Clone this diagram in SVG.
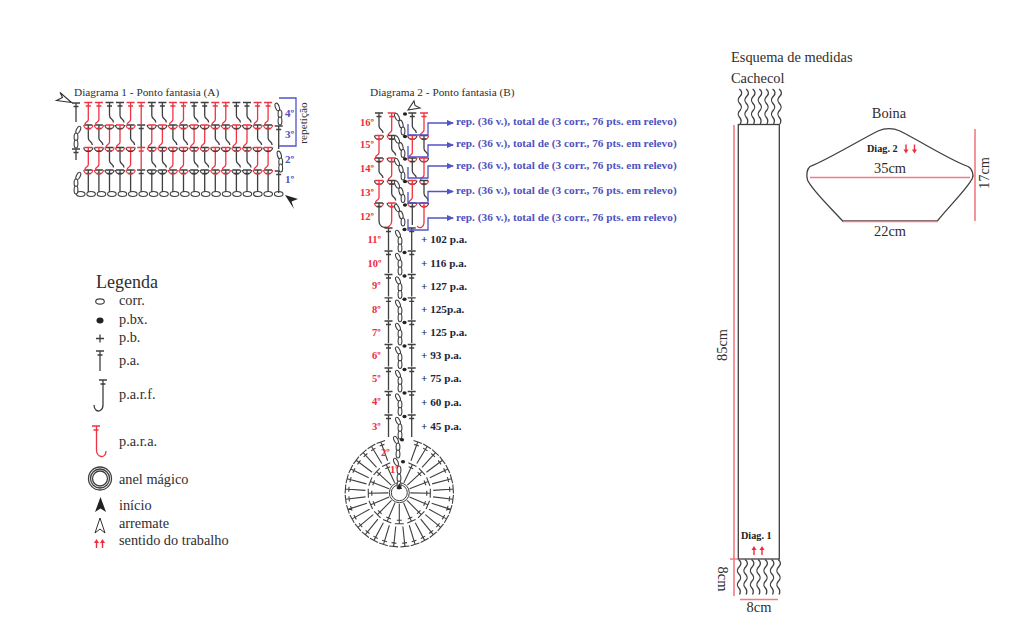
<svg xmlns="http://www.w3.org/2000/svg" width="1024" height="637" viewBox="0 0 1024 637">
<style>
text{font-family:"Liberation Serif","Times New Roman",serif;fill:#2e2e2e}
.l{font-size:14.300px}
.n{font-size:11px;font-weight:bold;fill:#4f52c0}
.h{font-size:11.300px}
.m{font-size:14.400px}
.b{font-size:11.300px;font-weight:bold;fill:#4f52c0}
.p{font-size:11.200px;font-weight:bold;fill:#22243a}
.o{font-size:10.500px;font-weight:bold;fill:#ef2b3c}
.d{font-size:10.200px;font-weight:bold;fill:#222}
.s{fill:none;stroke:#3f3f3f;stroke-width:1.3}
.r{fill:none;stroke:#ef3340;stroke-width:1.3}
.bl{fill:none;stroke:#5153c6;stroke-width:1.3}
.me{fill:none;stroke:#f27a84;stroke-width:1.6}
.c{fill:#fff;stroke:#3f3f3f;stroke-width:1.1}
.f{fill:#222}
</style>
<defs>
<marker id="ab" markerWidth="7" markerHeight="6" refX="6" refY="3" orient="auto" markerUnits="userSpaceOnUse"><path d="M0 0L7 3L0 6Z" fill="#5153c6"/></marker>
<path id="pa" class="s" d="M-4 0H4M-2.500 3.500H2.500M0 0V22"/>
<path id="pr" class="r" d="M-4 0H4M-2.500 3.500H2.500M0 0V22"/>
<path id="k" class="s" d="M-4 0H4M-2.500 3.500H2.500M0 0V13C0 17 4 16 4 20M-4.500 22.500A4.500 4 0 0 0 4.500 22.500"/>
<path id="q" class="r" d="M-4 0H4M-2.500 3.500H2.500M0 0V17C0 20 -3 19 -3.500 22M-4.500 22.500A4.500 4 0 0 0 4.500 22.500"/>
<ellipse id="ch" class="c" rx="1.900" ry="4"/>
<ellipse id="ho" class="c" rx="4.300" ry="2.500"/>
<g id="rowA">
<use href="#q" x="88.300"/><use href="#q" x="98.900"/><use href="#k" x="109.500"/><use href="#k" x="120"/><use href="#q" x="130.600"/><use href="#pr" x="141.200"/><use href="#k" x="151.800"/><use href="#k" x="162.400"/><use href="#q" x="172.900"/><use href="#q" x="183.500"/><use href="#k" x="194.100"/><use href="#k" x="204.700"/><use href="#q" x="215.300"/><use href="#q" x="225.800"/><use href="#k" x="236.400"/><use href="#k" x="247"/><use href="#q" x="257.600"/><use href="#q" x="268.100"/>
</g>
<g id="rowB">
<use href="#k" x="88.300"/><use href="#k" x="98.900"/><use href="#q" x="109.500"/><use href="#q" x="120"/><use href="#k" x="130.600"/><use href="#pa" x="141.200"/><use href="#q" x="151.800"/><use href="#q" x="162.400"/><use href="#k" x="172.900"/><use href="#k" x="183.500"/><use href="#q" x="194.100"/><use href="#q" x="204.700"/><use href="#k" x="215.300"/><use href="#k" x="225.800"/><use href="#q" x="236.400"/><use href="#q" x="247"/><use href="#k" x="257.600"/><use href="#k" x="268.100"/>
</g>
<g id="low">
<use href="#pa" x="388.500"/><use href="#pa" x="411.700"/>
<use href="#ch" transform="translate(398 6) rotate(-25)"/><use href="#ch" transform="translate(400 13)"/><use href="#ch" transform="translate(400 20)"/>
<ellipse class="f" cx="404.500" cy="1.500" rx="2.100" ry="1.800"/>
</g>
<g id="twist">
<use href="#ch" transform="translate(397 4) rotate(-25)"/><use href="#ch" transform="translate(401 11) rotate(-15)"/><use href="#ch" transform="translate(403 18)"/>
<ellipse class="f" cx="405" cy="1" rx="2.100" ry="1.800"/>
</g>
<g id="A"><use href="#k" x="379"/><use href="#q" x="391.700"/><use href="#k" x="412.300"/><use href="#q" x="424"/></g>
<g id="B"><use href="#q" x="379"/><use href="#k" x="391.700"/><use href="#q" x="412.300"/><use href="#k" x="424"/></g>
<g id="ro"><path class="s" style="stroke-width:1.100" d="M-4.500 -54H4.500M-2.500 -50.500H2.500M0 -54V-34"/></g>
<g id="ri"><path class="s" style="stroke-width:1.100" d="M-4.500 -31H4.500M-2.500 -27.500H2.500M0 -31V-11"/></g>
<path id="up" d="M-2.500 4L0 0L2.500 4H.7V9H-.7V4Z" fill="#ef2b3c"/>
<path id="fr" class="s" d="M0 0c3 2 3 5 1 7s-3 5 -1 7s3 5 1 7s-3 5 -1 7s2 5 1 7"/>
</defs>

<g id="diagrama-1">
<text class="h" x="74" y="95.500">Diagrama 1 - Ponto fantasia (A)</text>
<g id="d1-correntes">
<use href="#ho" x="80.700" y="194"/><use href="#ho" x="91.100" y="194"/><use href="#ho" x="101.500" y="194"/><use href="#ho" x="111.900" y="194"/><use href="#ho" x="122.400" y="194"/><use href="#ho" x="132.800" y="194"/><use href="#ho" x="143.200" y="194"/><use href="#ho" x="153.600" y="194"/><use href="#ho" x="164" y="194"/><use href="#ho" x="174.500" y="194"/><use href="#ho" x="184.900" y="194"/><use href="#ho" x="195.300" y="194"/><use href="#ho" x="205.700" y="194"/><use href="#ho" x="216.100" y="194"/><use href="#ho" x="226.600" y="194"/><use href="#ho" x="237" y="194"/><use href="#ho" x="247.400" y="194"/><use href="#ho" x="257.800" y="194"/><use href="#ho" x="268.200" y="194"/><use href="#ho" x="278.700" y="194"/>
</g>
<g id="d1-carreira-1">
<use href="#pa" x="88.300" y="170"/><use href="#pa" x="98.900" y="170"/><use href="#pa" x="109.500" y="170"/><use href="#pa" x="120" y="170"/><use href="#pa" x="130.600" y="170"/><use href="#pa" x="141.200" y="170"/><use href="#pa" x="151.800" y="170"/><use href="#pa" x="162.400" y="170"/><use href="#pa" x="172.900" y="170"/><use href="#pa" x="183.500" y="170"/><use href="#pa" x="194.100" y="170"/><use href="#pa" x="204.700" y="170"/><use href="#pa" x="215.300" y="170"/><use href="#pa" x="225.800" y="170"/><use href="#pa" x="236.400" y="170"/><use href="#pa" x="247" y="170"/><use href="#pa" x="257.600" y="170"/><use href="#pa" x="268.100" y="170"/><use href="#pa" x="278.700" y="171"/>
</g>
<use href="#rowA" y="147.500"/>
<use href="#rowB" y="125"/>
<use href="#rowA" y="102.500"/>
<g id="d1-bordas">
<path class="s" d="M72 103H80M73.500 106.500H78.500M76 103V122M72 149H80M73.500 152.500H78.500M76 149V160"/>
<path class="s" d="M274.700 126H282.700M276.200 129.500H281.200M278.700 126V149"/>
<use href="#ch" transform="translate(78.300 176) rotate(25)"/><use href="#ch" transform="translate(76 183)"/><use href="#ch" transform="translate(76 190)"/>
<use href="#ch" transform="translate(78.300 130) rotate(25)"/><use href="#ch" transform="translate(76 137)"/><use href="#ch" transform="translate(76 144)"/>
<use href="#ch" transform="translate(277.300 107) rotate(-20)"/><use href="#ch" transform="translate(280 114)"/><use href="#ch" transform="translate(280 121)"/>
<use href="#ch" transform="translate(279.300 155) rotate(-15)"/><use href="#ch" transform="translate(280.700 162)"/><use href="#ch" transform="translate(280.700 168)"/>
</g>
<path class="bl" d="M279 98H296V146H279"/>
<text class="n" x="285" y="117">4º</text>
<text class="n" x="285" y="138">3º</text>
<text class="n" x="285" y="163">2º</text>
<text class="n" x="285" y="183">1º</text>
<text class="h" text-anchor="middle" transform="translate(307 123) rotate(-90)">repetição</text>
<path fill="#fff" stroke="#333" stroke-width="1.100" d="M71.500 102.500L60 92.500L62.500 97.500L56.500 100.500Z"/>
<path class="f" d="M285 195L298 199L291.500 201.500L294 209Z"/>
</g>

<g id="diagrama-2">
<text class="h" x="370" y="96">Diagrama 2 - Ponto fantasia (B)</text>
<use href="#A" y="113"/><use href="#B" y="135.500"/><use href="#A" y="158"/><use href="#B" y="180.500"/>
<g id="d2-carreira-12">
<path class="s" d="M375 203H383M376.500 206.500H381.500M379 203V221C379 226 383 228 386 227M408.300 203H416.300M409.800 206.500H414.800M412.300 203V225"/>
<path class="r" d="M387.700 203H395.700M389.200 206.500H394.200M391.700 203V221C391.700 226 387 228 385 227M420 203H428M421.500 206.500H426.500M424 203V222C424 228 419 229 417 226"/>
</g>
<use href="#twist" y="113"/><use href="#twist" y="135.500"/><use href="#twist" y="158"/><use href="#twist" y="180.500"/><use href="#twist" y="204"/>
<path fill="#fff" stroke="#333" stroke-width="1.100" d="M408 110L414 101L415 105.500L420 108Z"/>
<use href="#low" y="228"/><use href="#low" y="251"/><use href="#low" y="274.500"/><use href="#low" y="297.800"/><use href="#low" y="321"/><use href="#low" y="344.500"/><use href="#low" y="368"/><use href="#low" y="391.500"/><use href="#low" y="415"/>
<g id="d2-blue">
<path class="bl" marker-end="url(#ab)" d="M408 124V135H428V123H453"/>
<path class="bl" marker-end="url(#ab)" d="M408 146V157H428V145H453"/>
<path class="bl" marker-end="url(#ab)" d="M408 167V178H428V166H453"/>
<path class="bl" marker-end="url(#ab)" d="M408 192V203H428V191.500H453"/>
<path class="bl" marker-end="url(#ab)" d="M408 219V230H428V218H453"/>
</g>
<text class="b" x="456" y="125">rep. (36 v.), total de (3 corr., 76 pts. em relevo)</text>
<text class="b" x="456" y="147">rep. (36 v.), total de (3 corr., 76 pts. em relevo)</text>
<text class="b" x="456" y="169">rep. (36 v.), total de (3 corr., 76 pts. em relevo)</text>
<text class="b" x="456" y="194">rep. (36 v.), total de (3 corr., 76 pts. em relevo)</text>
<text class="b" x="456" y="220.500">rep. (36 v.), total de (3 corr., 76 pts. em relevo)</text>
<text class="o" x="360" y="126">16º</text><text class="o" x="360" y="148">15º</text><text class="o" x="360" y="172">14º</text><text class="o" x="360" y="196">13º</text><text class="o" x="360" y="219.500">12º</text>
<text class="o" x="367.500" y="242.500">11º</text><text class="o" x="367.500" y="266.500">10º</text><text class="o" x="372" y="289">9º</text><text class="o" x="372" y="312.500">8º</text><text class="o" x="372" y="335.500">7º</text><text class="o" x="372" y="358.500">6º</text><text class="o" x="372" y="382">5º</text><text class="o" x="372" y="405">4º</text><text class="o" x="372" y="430">3º</text>
<text class="p" x="421" y="243">+ 102 p.a.</text><text class="p" x="421" y="267">+ 116 p.a.</text><text class="p" x="421" y="290">+ 127 p.a.</text><text class="p" x="421" y="313">+ 125p.a.</text><text class="p" x="421" y="336">+ 125 p.a.</text><text class="p" x="421" y="359">+ 93 p.a.</text><text class="p" x="421" y="382">+ 75 p.a.</text><text class="p" x="421" y="406">+ 60 p.a.</text><text class="p" x="421" y="430">+ 45 p.a.</text>
<g id="d2-circulo">
<g transform="translate(399.300 492.700)">
<use href="#ro" transform="rotate(20)"/><use href="#ro" transform="rotate(31)"/><use href="#ro" transform="rotate(42)"/><use href="#ro" transform="rotate(53)"/><use href="#ro" transform="rotate(64)"/><use href="#ro" transform="rotate(75)"/><use href="#ro" transform="rotate(86)"/><use href="#ro" transform="rotate(97)"/><use href="#ro" transform="rotate(108)"/><use href="#ro" transform="rotate(119)"/><use href="#ro" transform="rotate(130)"/><use href="#ro" transform="rotate(141)"/><use href="#ro" transform="rotate(152)"/><use href="#ro" transform="rotate(163)"/><use href="#ro" transform="rotate(174)"/><use href="#ro" transform="rotate(186)"/><use href="#ro" transform="rotate(197)"/><use href="#ro" transform="rotate(208)"/><use href="#ro" transform="rotate(219)"/><use href="#ro" transform="rotate(230)"/><use href="#ro" transform="rotate(241)"/><use href="#ro" transform="rotate(252)"/><use href="#ro" transform="rotate(263)"/><use href="#ro" transform="rotate(274)"/><use href="#ro" transform="rotate(285)"/><use href="#ro" transform="rotate(296)"/><use href="#ro" transform="rotate(307)"/><use href="#ro" transform="rotate(318)"/><use href="#ro" transform="rotate(329)"/><use href="#ro" transform="rotate(340)"/>
<use href="#ri" transform="rotate(25)"/><use href="#ri" transform="rotate(47)"/><use href="#ri" transform="rotate(69)"/><use href="#ri" transform="rotate(91)"/><use href="#ri" transform="rotate(113)"/><use href="#ri" transform="rotate(135)"/><use href="#ri" transform="rotate(157)"/><use href="#ri" transform="rotate(180)"/><use href="#ri" transform="rotate(203)"/><use href="#ri" transform="rotate(225)"/><use href="#ri" transform="rotate(247)"/><use href="#ri" transform="rotate(269)"/><use href="#ri" transform="rotate(291)"/><use href="#ri" transform="rotate(313)"/><use href="#ri" transform="rotate(335)"/>
<circle class="s" style="stroke-width:1" r="10"/><circle class="s" style="stroke-width:1" r="8"/>
</g>
<use href="#ch" transform="translate(396 462) rotate(-25)"/><use href="#ch" transform="translate(399 470)"/><use href="#ch" transform="translate(399 478)"/><use href="#ch" transform="translate(399 485)"/>
<ellipse class="f" cx="403" cy="461.700" rx="2.100" ry="1.800"/>
<use href="#ch" transform="translate(396 440) rotate(-25)"/><use href="#ch" transform="translate(398 447)"/><use href="#ch" transform="translate(398 454)"/>
<ellipse class="f" cx="402" cy="439.700" rx="2.100" ry="1.800"/>
<path class="f" d="M399.300 483L402 489H396.600Z"/>
<text class="o" x="381" y="456">2º</text><text class="o" x="390" y="473">1º</text>
</g>
</g>

<g id="legenda">
<text x="96" y="288" style="font-size:18px">Legenda</text>
<g id="leg-corr"><ellipse cx="100" cy="301.500" rx="4.300" ry="2.600" class="c"/><text class="l" x="119" y="305">corr.</text></g>
<g id="leg-pbx"><ellipse cx="100" cy="320.500" rx="3.500" ry="3" class="f"/><text class="l" x="119" y="324">p.bx.</text></g>
<g id="leg-pb"><path class="s" d="M96 338.500H104M100 334.500V342.500"/><text class="l" x="119" y="342">p.b.</text></g>
<g id="leg-pa"><path class="s" d="M96 351H104M97.500 355H102.500M100 351V371"/><text class="l" x="119" y="365">p.a.</text></g>
<g id="leg-parf"><path class="s" d="M99 380H107M100.500 384H105.500M103 380V405C103 411 98 412 96 410C94.500 408.500 94 407 94 405"/><text class="l" x="119" y="399">p.a.r.f.</text></g>
<g id="leg-para"><path class="r" d="M92 426H100M93.500 430H98.500M96.500 426V450C96.500 458 106 459 106 451"/><text class="l" x="119" y="446">p.a.r.a.</text></g>
<g id="leg-anel"><circle class="s" cx="100" cy="478.500" r="11.500"/><circle class="s" cx="100" cy="478.500" r="9.500"/><circle class="s" cx="100" cy="478.500" r="7.500"/><text class="l" x="119" y="483.500">anel mágico</text></g>
<g id="leg-inicio"><path class="f" d="M100.500 497L106 512L100.500 508.500L95 512Z"/><text class="l" x="119" y="510">início</text></g>
<g id="leg-arremate"><path fill="#fff" stroke="#333" d="M100 518L105 533L100 529L95 533Z"/><text class="l" x="119" y="528">arremate</text></g>
<g id="leg-sentido"><use href="#up" x="96.500" y="539"/><use href="#up" x="102.500" y="539"/><text class="l" x="119" y="545">sentido do trabalho</text></g>
</g>

<g id="cachecol">
<text class="m" x="731" y="62">Esquema de medidas</text>
<text class="m" x="731" y="83">Cachecol</text>
<use href="#fr" x="739.300" y="89"/><use href="#fr" x="746" y="89"/><use href="#fr" x="752.600" y="89"/><use href="#fr" x="759.300" y="89"/><use href="#fr" x="766" y="89"/><use href="#fr" x="772.600" y="89"/><use href="#fr" x="779" y="89"/>
<rect class="s" x="738.300" y="124.500" width="41" height="434.500"/>
<use href="#fr" x="738.500" y="559.500"/><use href="#fr" x="745" y="559.500"/><use href="#fr" x="751.500" y="559.500"/><use href="#fr" x="758" y="559.500"/><use href="#fr" x="765" y="559.500"/><use href="#fr" x="771.500" y="559.500"/><use href="#fr" x="778" y="559.500"/>
<path class="me" d="M734 125V596M730 559H738M740 599.500H778"/>
<text class="m" text-anchor="middle" transform="translate(727 345) rotate(-90)">85cm</text>
<text class="m" text-anchor="middle" transform="translate(718 579) rotate(90)">8cm</text>
<text class="m" text-anchor="middle" x="759" y="612">8cm</text>
<text class="d" x="741" y="539">Diag. 1</text>
<use href="#up" x="754" y="546"/><use href="#up" x="762" y="546"/>
</g>

<g id="boina">
<text class="m" text-anchor="middle" x="889" y="118">Boina</text>
<path class="s" d="M810 166.500C825 161 860 140 878 131C886 127.500 892 127.500 900 131C920 141 950 160 968 166.500C973 169 973.500 176 972.500 178C968 188 950 205 937.300 221H842.700C828 205 812 190 807.500 180C806 175 807 169 810 166.500Z"/>
<path class="me" d="M810 177.500H970M843 221.500H938M975 129V221"/>
<text class="d" x="867" y="151.500">Diag. 2</text>
<use href="#up" transform="translate(906 153.500) rotate(180)"/><use href="#up" transform="translate(914.500 153.500) rotate(180)"/>
<text class="m" text-anchor="middle" x="890" y="173">35cm</text>
<text class="m" text-anchor="middle" x="890" y="236">22cm</text>
<text class="m" text-anchor="middle" transform="translate(989 173) rotate(-90)">17cm</text>
</g>
</svg>
